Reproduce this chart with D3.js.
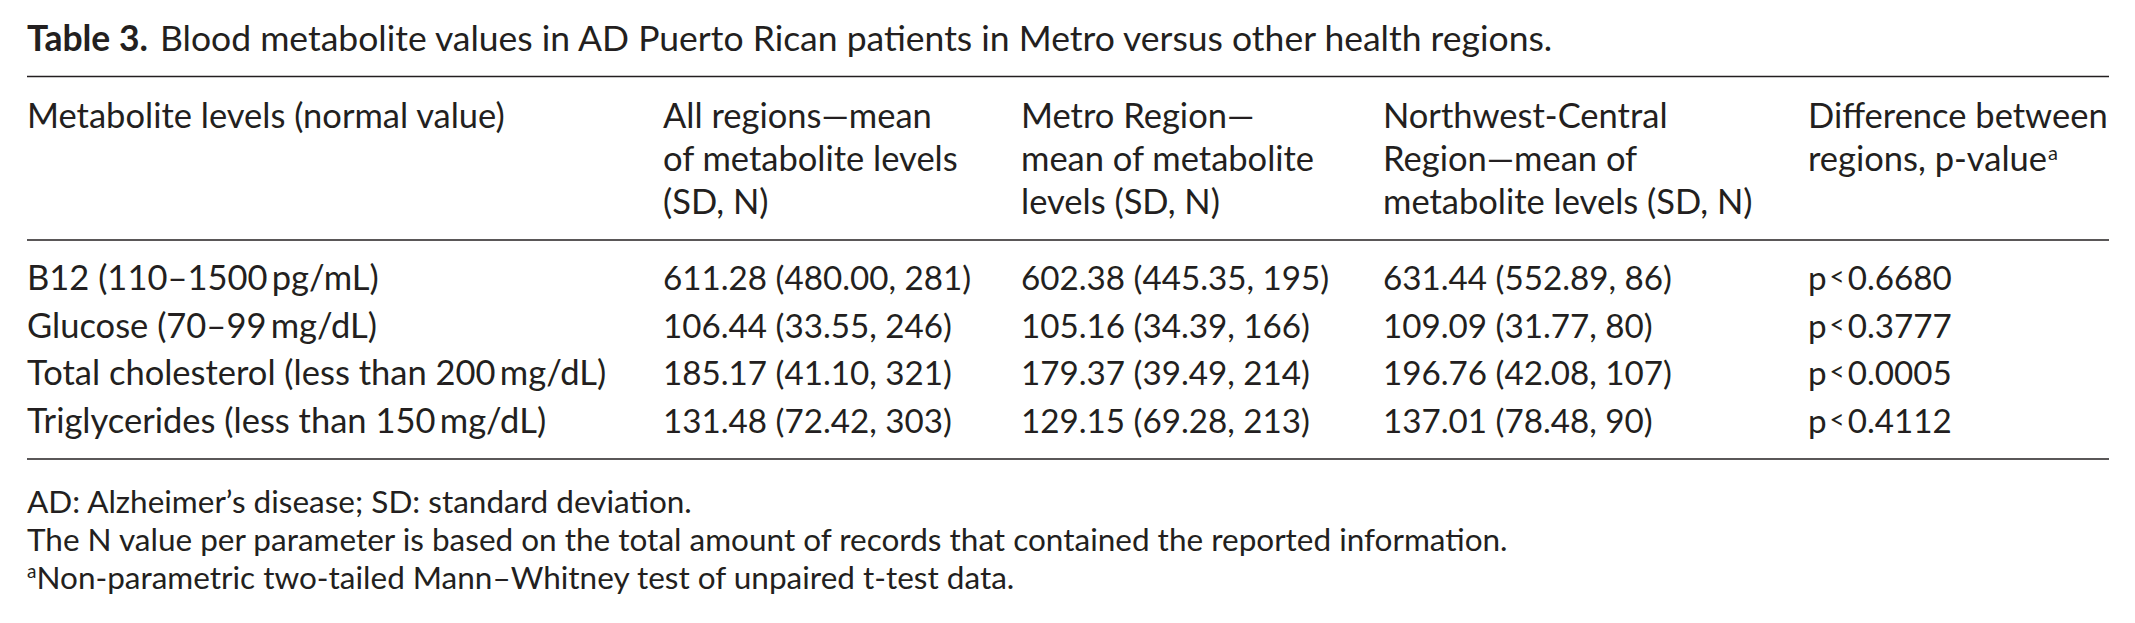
<!DOCTYPE html>
<html>
<head>
<meta charset="utf-8">
<script src="https://cdn.jsdelivr.net/npm/d3@7"></script>
<style>
  html, body { margin: 0; padding: 0; background: #ffffff; }
</style>
</head>
<body>
<div id="chart"></div>
<script>
// ---------- data ----------
const titleLabel = "Table 3.";
const titleText = "Blood metabolite values in AD Puerto Rican patients in Metro versus other health regions.";

const columnKeys = ["metabolite", "all", "metro", "nwc", "pvalue"];
const columnHeaders = [
    ["Metabolite levels (normal value)"],
    ["All regions\u2014mean", "of metabolite levels", "(SD, N)"],
    ["Metro Region\u2014", "mean of metabolite", "levels (SD, N)"],
    ["Northwest-Central", "Region\u2014mean of", "metabolite levels (SD, N)"],
    ["Difference between", "regions, p-value"]
];

const metabolites = ["B12", "Glucose", "Total cholesterol", "Triglycerides"];
const normalRanges = ["110\u20131500\u2009pg/mL", "70\u201399\u2009mg/dL", "less than 200\u2009mg/dL", "less than 150\u2009mg/dL"];

const allMean = [611.28, 106.44, 185.17, 131.48];
const allSD = [480.00, 33.55, 41.10, 72.42];
const allN = [281, 246, 321, 303];

const metroMean = [602.38, 105.16, 179.37, 129.15];
const metroSD = [445.35, 34.39, 39.49, 69.28];
const metroN = [195, 166, 214, 213];

const nwcMean = [631.44, 109.09, 196.76, 137.01];
const nwcSD = [552.89, 31.77, 42.08, 78.48];
const nwcN = [86, 80, 107, 90];

const pValues = ["0.6680", "0.3777", "0.0005", "0.4112"];

const footnotes = [
    "AD: Alzheimer\u2019s disease; SD: standard deviation.",
    "The N value per parameter is based on the total amount of records that contained the reported information.",
    "Non-parametric two-tailed Mann\u2013Whitney test of unpaired t-test data."
];

// ---------- layout ----------
const width = 2135, height = 623;
const left = 27, right = 2109;
const ink = "#231f20";
const fontFamily = "Lato, 'Noto Sans', sans-serif";
const bodySize = 34.5;
const numSize = 33.2;
const noteSize = 31.5;

const svg = d3.select("#chart").append("svg")
    .attr("width", width)
    .attr("height", height)
    .attr("viewBox", `0 0 ${width} ${height}`)
    .style("font-family", fontFamily)
    .style("fill", ink);

const x = d3.scaleOrdinal()
    .domain(columnKeys)
    .range([left, 663, 1021, 1383, 1808]);

// header lines
const headerY = d3.scaleLinear().domain([0, 1]).range([128, 171]);
// body rows (baselines)
const rowY = d3.scalePoint().domain(metabolites).range([290, 433]);
// footnote lines
const noteY = d3.scaleLinear().domain([0, 1]).range([513, 551]);

const fmt2 = d3.format(".2f");
const cell = (m, s, n, i) => `${fmt2(m[i])} (${fmt2(s[i])}, ${n[i]})`;

// title
const title = svg.append("text")
    .attr("x", left)
    .attr("y", 51)
    .style("font-size", "35.5px");
title.append("tspan").style("font-weight", "bold").text(titleLabel);
title.append("tspan").attr("dx", 12).text(titleText);

// rules
const rules = [{ y: 76.5 }, { y: 240 }, { y: 459 }];
svg.selectAll(".rule")
    .data(rules)
    .enter()
    .append("line")
    .attr("class", "rule")
    .attr("x1", left)
    .attr("x2", right)
    .attr("y1", d => d.y)
    .attr("y2", d => d.y)
    .attr("stroke", ink)
    .attr("stroke-width", 1.6);

// column headers
columnHeaders.forEach((lines, ci) => {
    const g = svg.append("text")
        .attr("class", "col-header")
        .style("font-size", `${bodySize}px`);
    lines.forEach((line, li) => {
        g.append("tspan")
            .attr("x", x(columnKeys[ci]))
            .attr("y", headerY(li))
            .text(line);
        if (ci === 4 && li === 1) {
            g.append("tspan")
                .attr("dx", 1)
                .attr("dy", -11)
                .style("font-size", "20px")
                .text("a");
        }
    });
});

// body rows
const rows = metabolites.map((m, i) => ({
    metabolite: `${m} (${normalRanges[i]})`,
    all: cell(allMean, allSD, allN, i),
    metro: cell(metroMean, metroSD, metroN, i),
    nwc: cell(nwcMean, nwcSD, nwcN, i),
    p: pValues[i],
    key: m
}));

const rowG = svg.selectAll(".row")
    .data(rows)
    .enter()
    .append("g")
    .attr("class", "row")
    .attr("transform", d => `translate(0, ${rowY(d.key)})`);

rowG.append("text")
    .attr("x", x("metabolite"))
    .attr("y", 0)
    .style("font-size", `${bodySize}px`)
    .text(d => d.metabolite);

["all", "metro", "nwc"].forEach(k => {
    rowG.append("text")
        .attr("x", x(k))
        .attr("y", 0)
        .style("font-size", `${numSize}px`)
        .text(d => d[k]);
});

const pText = rowG.append("text")
    .attr("x", x("pvalue"))
    .attr("y", 0)
    .style("font-size", `${numSize}px`);
pText.append("tspan").text("p");
pText.append("tspan").attr("dx", 3).attr("dy", -4).style("font-size", "26px").text("<");
pText.append("tspan").attr("dx", 3).attr("dy", 4).text(d => d.p);

// footnotes
footnotes.forEach((line, i) => {
    const t = svg.append("text")
        .attr("x", left)
        .attr("y", noteY(i))
        .style("font-size", `${noteSize}px`);
    if (i === 2) {
        t.append("tspan").attr("dy", -11).style("font-size", "19px").text("a");
        t.append("tspan").attr("dy", 11).text(line);
    } else {
        t.text(line);
    }
});
</script>
</body>
</html>
